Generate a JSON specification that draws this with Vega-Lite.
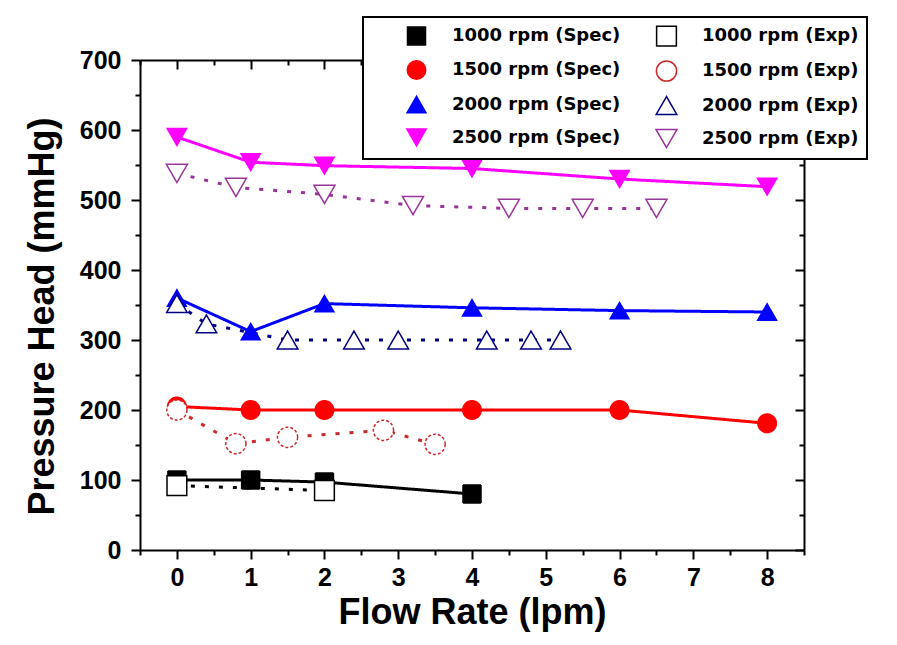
{
  "$schema": "https://vega.github.io/schema/vega-lite/v6.json",
  "width": 664,
  "height": 490,
  "autosize": {"type": "none"},
  "padding": {"left": 140, "top": 60, "right": 93, "bottom": 95},
  "background": "white",
  "config": {
    "view": {"stroke": null},
    "axis": {
      "grid": false,
      "domainColor": "black",
      "domainWidth": 2,
      "tickColor": "black",
      "tickWidth": 2,
      "labelFont": "Liberation Sans",
      "labelFontSize": 25,
      "labelFontWeight": "bold",
      "labelColor": "black",
      "labelOverlap": false,
      "labelFlush": false,
      "titleFont": "Liberation Sans",
      "titleFontSize": 36,
      "titleFontWeight": "bold",
      "titleColor": "black"
    },
    "legend": {
      "labelFont": "DejaVu Sans",
      "labelFontSize": 18,
      "labelFontWeight": "bold",
      "labelColor": "black",
      "strokeColor": "black",
      "strokeWidth": 2,
      "fillColor": "white",
      "padding": 8,
      "rowPadding": 8,
      "columnPadding": -6,
      "symbolOffset": 34,
      "labelOffset": 24,
      "symbolStrokeWidth": 1.5,
      "labelLimit": 300
    }
  },
  "data": {
    "values": [
      {"s": "1000 rpm (Spec)", "x": 0, "y": 100},
      {"s": "1000 rpm (Spec)", "x": 1, "y": 100},
      {"s": "1000 rpm (Spec)", "x": 2, "y": 97},
      {"s": "1000 rpm (Spec)", "x": 4, "y": 80},
      {"s": "1500 rpm (Spec)", "x": 0, "y": 205},
      {"s": "1500 rpm (Spec)", "x": 1, "y": 200},
      {"s": "1500 rpm (Spec)", "x": 2, "y": 200},
      {"s": "1500 rpm (Spec)", "x": 4, "y": 200},
      {"s": "1500 rpm (Spec)", "x": 6, "y": 200},
      {"s": "1500 rpm (Spec)", "x": 8, "y": 181},
      {"s": "2000 rpm (Spec)", "x": 0, "y": 360},
      {"s": "2000 rpm (Spec)", "x": 1, "y": 312},
      {"s": "2000 rpm (Spec)", "x": 2, "y": 352},
      {"s": "2000 rpm (Spec)", "x": 4, "y": 346},
      {"s": "2000 rpm (Spec)", "x": 6, "y": 342},
      {"s": "2000 rpm (Spec)", "x": 8, "y": 340},
      {"s": "2500 rpm (Spec)", "x": 0, "y": 590},
      {"s": "2500 rpm (Spec)", "x": 1, "y": 554},
      {"s": "2500 rpm (Spec)", "x": 2, "y": 549},
      {"s": "2500 rpm (Spec)", "x": 4, "y": 545},
      {"s": "2500 rpm (Spec)", "x": 6, "y": 530},
      {"s": "2500 rpm (Spec)", "x": 8, "y": 519},
      {"s": "1000 rpm (Exp)", "x": 0, "y": 92},
      {"s": "1000 rpm (Exp)", "x": 2, "y": 85},
      {"s": "1500 rpm (Exp)", "x": 0, "y": 200},
      {"s": "1500 rpm (Exp)", "x": 0.8, "y": 152},
      {"s": "1500 rpm (Exp)", "x": 1.5, "y": 161},
      {"s": "1500 rpm (Exp)", "x": 2.8, "y": 171},
      {"s": "1500 rpm (Exp)", "x": 3.5, "y": 151},
      {"s": "2000 rpm (Exp)", "x": 0, "y": 352},
      {"s": "2000 rpm (Exp)", "x": 0.4, "y": 323},
      {"s": "2000 rpm (Exp)", "x": 1.5, "y": 300},
      {"s": "2000 rpm (Exp)", "x": 2.4, "y": 300},
      {"s": "2000 rpm (Exp)", "x": 3, "y": 300},
      {"s": "2000 rpm (Exp)", "x": 4.2, "y": 300},
      {"s": "2000 rpm (Exp)", "x": 4.8, "y": 300},
      {"s": "2000 rpm (Exp)", "x": 5.2, "y": 300},
      {"s": "2500 rpm (Exp)", "x": 0, "y": 538},
      {"s": "2500 rpm (Exp)", "x": 0.8, "y": 518},
      {"s": "2500 rpm (Exp)", "x": 2, "y": 508},
      {"s": "2500 rpm (Exp)", "x": 3.2, "y": 492},
      {"s": "2500 rpm (Exp)", "x": 4.5, "y": 488},
      {"s": "2500 rpm (Exp)", "x": 5.5, "y": 488},
      {"s": "2500 rpm (Exp)", "x": 6.5, "y": 488}
    ]
  },
  "layer": [
    {
      "mark": {"type": "line", "strokeWidth": 3, "strokeCap": "butt"},
      "encoding": {
        "x": {
          "field": "x", "type": "quantitative",
          "scale": {"domain": [-0.5, 8.5], "nice": false, "zero": false},
          "axis": {
            "orient": "bottom",
            "values": [-0.5, 0, 0.5, 1, 1.5, 2, 2.5, 3, 3.5, 4, 4.5, 5, 5.5, 6, 6.5, 7, 7.5, 8, 8.5],
            "labelExpr": "datum.value % 1 === 0 ? format(datum.value, 'd') : ''",
            "tickSize": {"condition": {"test": "datum.value % 1 !== 0", "value": 5}, "value": 9},
            "labelPadding": 6,
            "title": "Flow Rate (lpm)",
            "titleX": 332, "titleY": 73, "titleBaseline": "alphabetic", "titleAlign": "center"
          }
        },
        "y": {
          "field": "y", "type": "quantitative",
          "scale": {"domain": [0, 700], "nice": false},
          "axis": {
            "orient": "left",
            "values": [0, 50, 100, 150, 200, 250, 300, 350, 400, 450, 500, 550, 600, 650, 700],
            "labelExpr": "datum.value % 100 === 0 ? format(datum.value, 'd') : ''",
            "tickSize": {"condition": {"test": "datum.value % 100 !== 0", "value": 5}, "value": 9},
            "labelPadding": 10,
            "title": "Pressure Head (mmHg)",
            "titleX": -87, "titleY": 256, "titleBaseline": "alphabetic", "titleAlign": "center", "titleAngle": -90
          }
        },
        "stroke": {
          "field": "s", "type": "nominal",
          "scale": {
            "domain": ["1000 rpm (Spec)", "1500 rpm (Spec)", "2000 rpm (Spec)", "2500 rpm (Spec)", "1000 rpm (Exp)", "1500 rpm (Exp)", "2000 rpm (Exp)", "2500 rpm (Exp)"],
            "range": ["#000000", "#ff0000", "#0000ff", "#ff00ff", "#000000", "#cc2a2a", "#000080", "#993399"]
          },
          "legend": {"title": null, "orient": "none", "legendX": 223, "legendY": -43, "columns": 2, "strokeColor": "black", "fillColor": "white"}
        },
        "strokeDash": {
          "condition": {"test": "indexof(datum.s, 'Exp') >= 0", "value": [4, 10]},
          "value": [1, 0]
        }
      }
    },
    {
      "mark": {"type": "point", "opacity": 1, "strokeWidth": 1.5},
      "encoding": {
        "x": {
          "field": "x", "type": "quantitative",
          "axis": {
            "orient": "top",
            "values": [-0.5, 0, 0.5, 1, 1.5, 2, 2.5, 3, 3.5, 4, 4.5, 5, 5.5, 6, 6.5, 7, 7.5, 8, 8.5],
            "labels": false,
            "tickSize": {"condition": {"test": "datum.value % 1 !== 0", "value": -5}, "value": -9},
            "title": null
          }
        },
        "y": {
          "field": "y", "type": "quantitative",
          "axis": {
            "orient": "right",
            "values": [0, 50, 100, 150, 200, 250, 300, 350, 400, 450, 500, 550, 600, 650, 700],
            "labels": false,
            "tickSize": {"condition": {"test": "datum.value % 100 !== 0", "value": -5}, "value": -9},
            "title": null
          }
        },
        "stroke": {"field": "s", "type": "nominal", "legend": {"title": null, "orient": "none", "legendX": 223, "legendY": -43, "columns": 2, "strokeColor": "black", "fillColor": "white"}},
        "fill": {
          "field": "s", "type": "nominal",
          "scale": {
            "domain": ["1000 rpm (Spec)", "1500 rpm (Spec)", "2000 rpm (Spec)", "2500 rpm (Spec)", "1000 rpm (Exp)", "1500 rpm (Exp)", "2000 rpm (Exp)", "2500 rpm (Exp)"],
            "range": ["#000000", "#ff0000", "#0000ff", "#ff00ff", "#ffffff", "#ffffff", "#ffffff", "#ffffff"]
          },
          "legend": {"title": null, "orient": "none", "legendX": 223, "legendY": -43, "columns": 2, "strokeColor": "black", "fillColor": "white"}
        },
        "shape": {
          "field": "s", "type": "nominal",
          "scale": {
            "domain": ["1000 rpm (Spec)", "1500 rpm (Spec)", "2000 rpm (Spec)", "2500 rpm (Spec)", "1000 rpm (Exp)", "1500 rpm (Exp)", "2000 rpm (Exp)", "2500 rpm (Exp)"],
            "range": ["square", "circle", "triangle-up", "triangle-down", "square", "circle", "triangle-up", "triangle-down"]
          },
          "legend": {"title": null, "orient": "none", "legendX": 223, "legendY": -43, "columns": 2, "strokeColor": "black", "fillColor": "white"}
        },
        "size": {
          "field": "s", "type": "nominal",
          "scale": {
            "domain": ["1000 rpm (Spec)", "1500 rpm (Spec)", "2000 rpm (Spec)", "2500 rpm (Spec)", "1000 rpm (Exp)", "1500 rpm (Exp)", "2000 rpm (Exp)", "2500 rpm (Exp)"],
            "range": [324, 441, 576, 529, 324, 441, 576, 529]
          },
          "legend": {"title": null, "orient": "none", "legendX": 223, "legendY": -43, "columns": 2, "strokeColor": "black", "fillColor": "white"}
        },
        "strokeDash": {
          "condition": {"test": "datum.s === '1500 rpm (Exp)'", "value": [3, 2]},
          "value": [1, 0]
        }
      }
    }
  ],
  "resolve": {"axis": {"x": "independent", "y": "independent"}}
}
